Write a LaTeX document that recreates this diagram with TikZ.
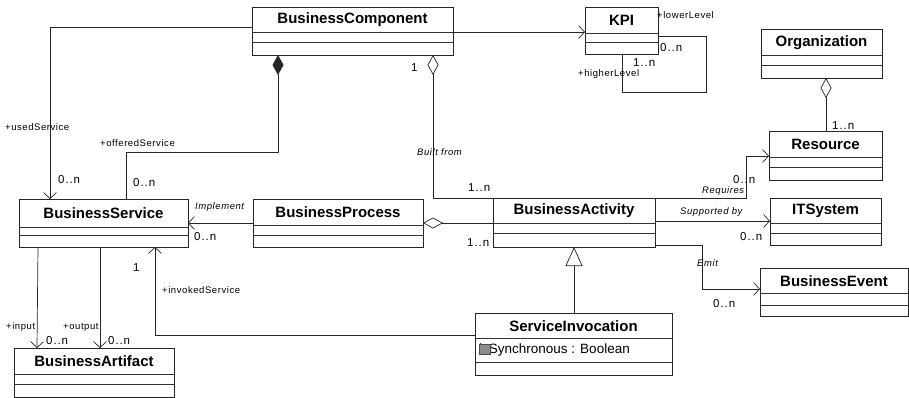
\documentclass[tikz,border=0pt]{standalone}
\usepackage{fontspec}
\setmainfont{Liberation Sans}
\usetikzlibrary{arrows.meta,calc}
\newcommand\umlclass[8]{%
  \node[classbox, minimum width={(#4-#2)*1pt}, minimum height={(#5-#3)*1pt}] (#1) at ({(#2+#4)/2},{(#3+#5)/2}) {};
  \node[classname] (#1-t) at ({(#2+#4)/2},{(#3+#6)/2+0.5}) {#8};
  \draw[sepline] (#2,#6) -- (#4,#6);
  \draw[sepline] (#2,#7) -- (#4,#7);
}
\tikzset{
  classbox/.style={draw=black!85, line width=0.7pt, rectangle, inner sep=0pt, outer sep=0pt},
  classname/.style={font=\fontsize{15}{15}\selectfont\bfseries, inner sep=0pt},
  sepline/.style={draw=black!80, line width=0.6pt},
  conn/.style={draw=black!85, line width=0.7pt},
  navi/.style={conn, -{Straight Barb[length=6pt,width=13pt,line width=0.7pt]}},
  aggr/.style={conn, {Diamond[open,length=20pt,width=11pt,line width=0.7pt,fill=white]}-},
  comp/.style={conn, {Diamond[length=20pt,width=11pt]}-},
  gener/.style={conn, -{Triangle[open,length=19pt,width=17pt,line width=0.7pt,fill=white]}},
  role/.style={font=\fontsize{9.5}{9.5}\selectfont\addfontfeature{LetterSpace=6}, inner sep=0pt, anchor=west},
  mult/.style={font=\fontsize{11.5}{11.5}\selectfont\addfontfeature{LetterSpace=8}, inner sep=0pt, anchor=west},
  assoc/.style={font=\fontsize{9.5}{9.5}\selectfont\itshape\addfontfeature{LetterSpace=6}, inner sep=0pt, anchor=west},
}
\begin{document}
\begin{tikzpicture}[x=1pt,y=-1pt]
\useasboundingbox[fill=white] (0,0) rectangle (909,398);

% classes
\umlclass{bc}{252}{7}{453}{55}{32}{42}{BusinessComponent}
\umlclass{kpi}{585}{7}{658}{54}{33}{42}{KPI}
\umlclass{org}{761}{29}{882}{78}{55}{65}{Organization}
\umlclass{res}{769}{131}{882}{180}{157}{167}{Resource}
\umlclass{bs}{19}{199}{188}{247}{227}{235}{BusinessService}
\umlclass{bp}{253}{199}{423}{247}{225}{235}{BusinessProcess}
\umlclass{ba}{493}{198}{655}{247}{223}{233}{BusinessActivity}
\umlclass{its}{770}{198}{881}{245}{223}{233}{ITSystem}
\umlclass{be}{760}{268}{908}{316}{293}{305}{BusinessEvent}
\umlclass{si}{475}{313}{672}{375}{338}{362}{ServiceInvocation}
\umlclass{art}{14}{348}{174}{397}{374}{384}{BusinessArtifact}

% attribute of ServiceInvocation
\node[font=\fontsize{13.5}{13.5}\selectfont, inner sep=0pt, anchor=west] (si-attr) at (479,350) {isSynchronous : Boolean};
\node[draw=black!70, fill=black!45, minimum width=11pt, minimum height=10pt, inner sep=0pt] (si-icon) at (484.5,349.5) {};

% connectors
\draw[navi] (bc.west |- 0,27) -- (50,27) -- (bs.north -| 50,0);
\draw[comp] (bc.south -| 278,0) -- (278,152) -- (126,152) -- (bs.north -| 126,0);
\draw[aggr] (bc.south -| 433,0) -- (433,198) -- (ba.north west);
\draw[navi] (bc.east |- 0,32) -- (kpi.west |- 0,32);
\draw[conn] (kpi.east |- 0,36) -- (706,36) -- (706,92) -- (622,92) -- (kpi.south -| 622,0);
\draw[aggr] (org.south -| 826,0) -- (res.north -| 826,0);
\draw[navi] (ba.north east) -- (746,198) -- (746,156) -- (res.west |- 0,156);
\draw[navi] (ba.east |- 0,221) -- (its.west |- 0,221);
\draw[navi] (ba.east |- 0,245) -- (702,245) -- (702,289) -- (be.west |- 0,289);
\draw[gener] (si.north -| 574,0) -- (ba.south -| 574,0);
\draw[navi] (si.west |- 0,335) -- (155,335) -- (bs.south -| 155,0);
\draw[navi] (bp.west |- 0,223) -- (bs.east |- 0,223);
\draw[aggr] (bp.east |- 0,223) -- (ba.west |- 0,223);
\draw[navi] (bs.south -| 38,0) -- (art.north -| 37,0);
\draw[navi] (bs.south -| 100,0) -- (art.north -| 100,0);

% labels
\node[role] (l-used) at (5,127) {+usedService};
\node[mult] (m-used) at (58,180) {0..n};
\node[role] (l-off) at (100,143) {+offeredService};
\node[mult] (m-off) at (133,183) {0..n};
\node[mult] (m-bc1) at (411,68) {1};
\node[assoc] (a-built) at (417,152) {Built from};
\node[mult] (m-ba1) at (468,188) {1..n};
\node[role] (l-low) at (657,15) {+lowerLevel};
\node[mult] (m-low) at (660,48) {0..n};
\node[mult] (m-high) at (633,63) {1..n};
\node[role] (l-high) at (578,74) {+higherLevel};
\node[mult] (m-org) at (832,126) {1..n};
\node[mult] (m-res) at (733,180) {0..n};
\node[assoc] (a-req) at (702,191) {Requires};
\node[assoc] (a-sup) at (680,212) {Supported by};
\node[mult] (m-its) at (740,237) {0..n};
\node[assoc] (a-emit) at (697,263) {Emit};
\node[mult] (m-be) at (713,304) {0..n};
\node[mult] (m-ba2) at (467,243) {1..n};
\node[assoc] (a-impl) at (195,207) {Implement};
\node[mult] (m-impl) at (194,237) {0..n};
\node[mult] (m-inv) at (133,268) {1};
\node[role] (l-inv) at (162,290) {+invokedService};
\node[role] (l-in) at (6,327) {+input};
\node[mult] (m-in) at (46,341) {0..n};
\node[role] (l-out) at (63,327) {+output};
\node[mult] (m-out) at (108,341) {0..n};
\end{tikzpicture}
\end{document}
